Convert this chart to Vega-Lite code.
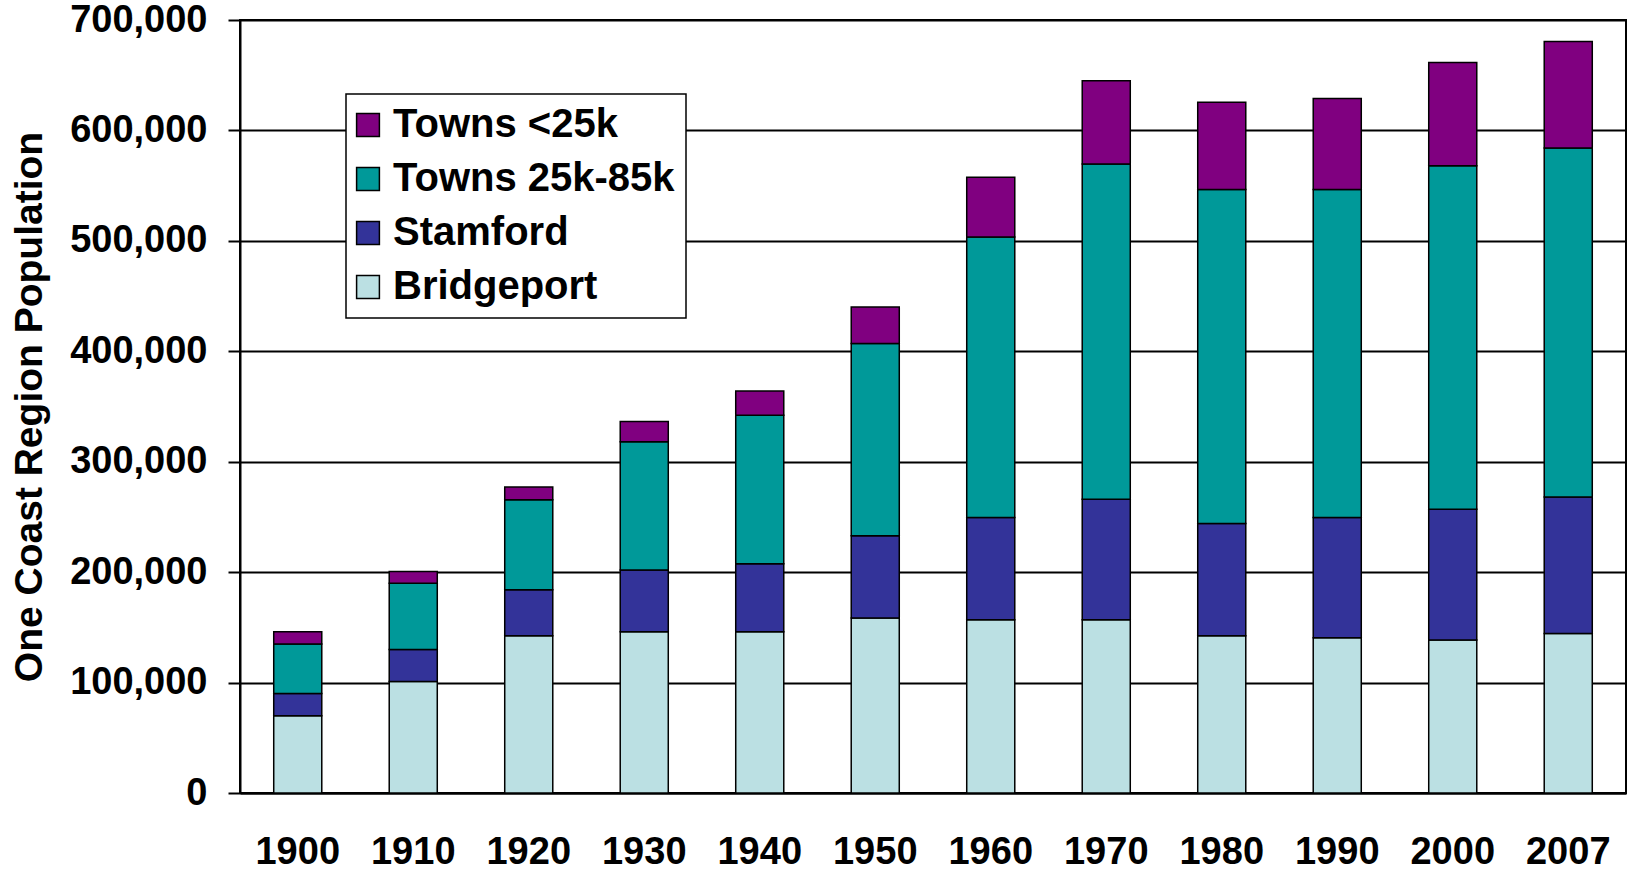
{
  "$schema": "https://vega.github.io/schema/vega-lite/v6.json",
  "width": 1386,
  "height": 773,
  "autosize": {"type": "none"},
  "padding": {"left": 240, "top": 20, "right": 1, "bottom": 81},
  "background": "white",
  "config": {
    "font": "Liberation Sans",
    "view": {"stroke": "black", "strokeWidth": 2},
    "legend": {"strokeWidth": 1.5}
  },
  "data": {
    "values": [
      {"year": "1900", "series": "Bridgeport", "population": 70000},
      {"year": "1900", "series": "Stamford", "population": 20000},
      {"year": "1900", "series": "Towns 25k-85k", "population": 45000},
      {"year": "1900", "series": "Towns <25k", "population": 11000},
      {"year": "1910", "series": "Bridgeport", "population": 101000},
      {"year": "1910", "series": "Stamford", "population": 29000},
      {"year": "1910", "series": "Towns 25k-85k", "population": 60000},
      {"year": "1910", "series": "Towns <25k", "population": 10500},
      {"year": "1920", "series": "Bridgeport", "population": 142500},
      {"year": "1920", "series": "Stamford", "population": 41500},
      {"year": "1920", "series": "Towns 25k-85k", "population": 81500},
      {"year": "1920", "series": "Towns <25k", "population": 11500},
      {"year": "1930", "series": "Bridgeport", "population": 146000},
      {"year": "1930", "series": "Stamford", "population": 56000},
      {"year": "1930", "series": "Towns 25k-85k", "population": 116000},
      {"year": "1930", "series": "Towns <25k", "population": 18500},
      {"year": "1940", "series": "Bridgeport", "population": 146000},
      {"year": "1940", "series": "Stamford", "population": 61500},
      {"year": "1940", "series": "Towns 25k-85k", "population": 134500},
      {"year": "1940", "series": "Towns <25k", "population": 22000},
      {"year": "1950", "series": "Bridgeport", "population": 158500},
      {"year": "1950", "series": "Stamford", "population": 74500},
      {"year": "1950", "series": "Towns 25k-85k", "population": 174000},
      {"year": "1950", "series": "Towns <25k", "population": 33000},
      {"year": "1960", "series": "Bridgeport", "population": 157000},
      {"year": "1960", "series": "Stamford", "population": 92500},
      {"year": "1960", "series": "Towns 25k-85k", "population": 254000},
      {"year": "1960", "series": "Towns <25k", "population": 54000},
      {"year": "1970", "series": "Bridgeport", "population": 157000},
      {"year": "1970", "series": "Stamford", "population": 109000},
      {"year": "1970", "series": "Towns 25k-85k", "population": 303500},
      {"year": "1970", "series": "Towns <25k", "population": 75500},
      {"year": "1980", "series": "Bridgeport", "population": 142500},
      {"year": "1980", "series": "Stamford", "population": 101500},
      {"year": "1980", "series": "Towns 25k-85k", "population": 302500},
      {"year": "1980", "series": "Towns <25k", "population": 79000},
      {"year": "1990", "series": "Bridgeport", "population": 140500},
      {"year": "1990", "series": "Stamford", "population": 109000},
      {"year": "1990", "series": "Towns 25k-85k", "population": 297000},
      {"year": "1990", "series": "Towns <25k", "population": 82500},
      {"year": "2000", "series": "Bridgeport", "population": 138500},
      {"year": "2000", "series": "Stamford", "population": 118500},
      {"year": "2000", "series": "Towns 25k-85k", "population": 311000},
      {"year": "2000", "series": "Towns <25k", "population": 93500},
      {"year": "2007", "series": "Bridgeport", "population": 144500},
      {"year": "2007", "series": "Stamford", "population": 123500},
      {"year": "2007", "series": "Towns 25k-85k", "population": 316000},
      {"year": "2007", "series": "Towns <25k", "population": 96500}
    ]
  },
  "mark": {"type": "bar", "stroke": "black", "strokeWidth": 1.5},
  "encoding": {
    "x": {
      "field": "year",
      "type": "ordinal",
      "sort": null,
      "scale": {"paddingInner": 0.584, "paddingOuter": 0.292},
      "axis": {
        "title": null,
        "labelAngle": 0,
        "labelFont": "Liberation Sans",
        "labelFontSize": 38,
        "labelFontWeight": "bold",
        "labelColor": "black",
        "labelPadding": 40,
        "ticks": false,
        "domainColor": "black",
        "domainWidth": 2
      }
    },
    "y": {
      "field": "population",
      "type": "quantitative",
      "stack": "zero",
      "scale": {"domain": [0, 700000], "nice": false},
      "axis": {
        "title": "One Coast Region Population",
        "titleFont": "Liberation Sans",
        "titleFontSize": 39,
        "titleFontWeight": "bold",
        "titleColor": "black",
        "titleX": -211,
        "titleBaseline": "middle",
        "values": [0, 100000, 200000, 300000, 400000, 500000, 600000, 700000],
        "format": ",.0f",
        "labelFont": "Liberation Sans",
        "labelFontSize": 38,
        "labelFontWeight": "bold",
        "labelColor": "black",
        "labelPadding": 21,
        "tickSize": 12,
        "tickColor": "black",
        "tickWidth": 2,
        "domainColor": "black",
        "domainWidth": 2,
        "grid": true,
        "gridColor": "black",
        "gridWidth": 2
      }
    },
    "color": {
      "field": "series",
      "type": "nominal",
      "scale": {
        "domain": ["Towns <25k", "Towns 25k-85k", "Stamford", "Bridgeport"],
        "range": ["#800080", "#009999", "#333399", "#BBE0E3"]
      },
      "legend": {
        "title": null,
        "orient": "none",
        "legendX": 106,
        "legendY": 74,
        "fillColor": "white",
        "strokeColor": "black",
        "padding": 11,
        "symbolType": "square",
        "symbolSize": 520,
        "symbolOffset": -9,
        "symbolStrokeColor": "black",
        "symbolStrokeWidth": 1.5,
        "symbolOpacity": 1,
        "labelFont": "Liberation Sans",
        "labelFontSize": 40,
        "labelFontWeight": "bold",
        "labelColor": "black",
        "labelOffset": 5,
        "labelLimit": 400,
        "rowPadding": 14
      }
    },
    "order": {"field": "series", "sort": "ascending"}
  }
}
